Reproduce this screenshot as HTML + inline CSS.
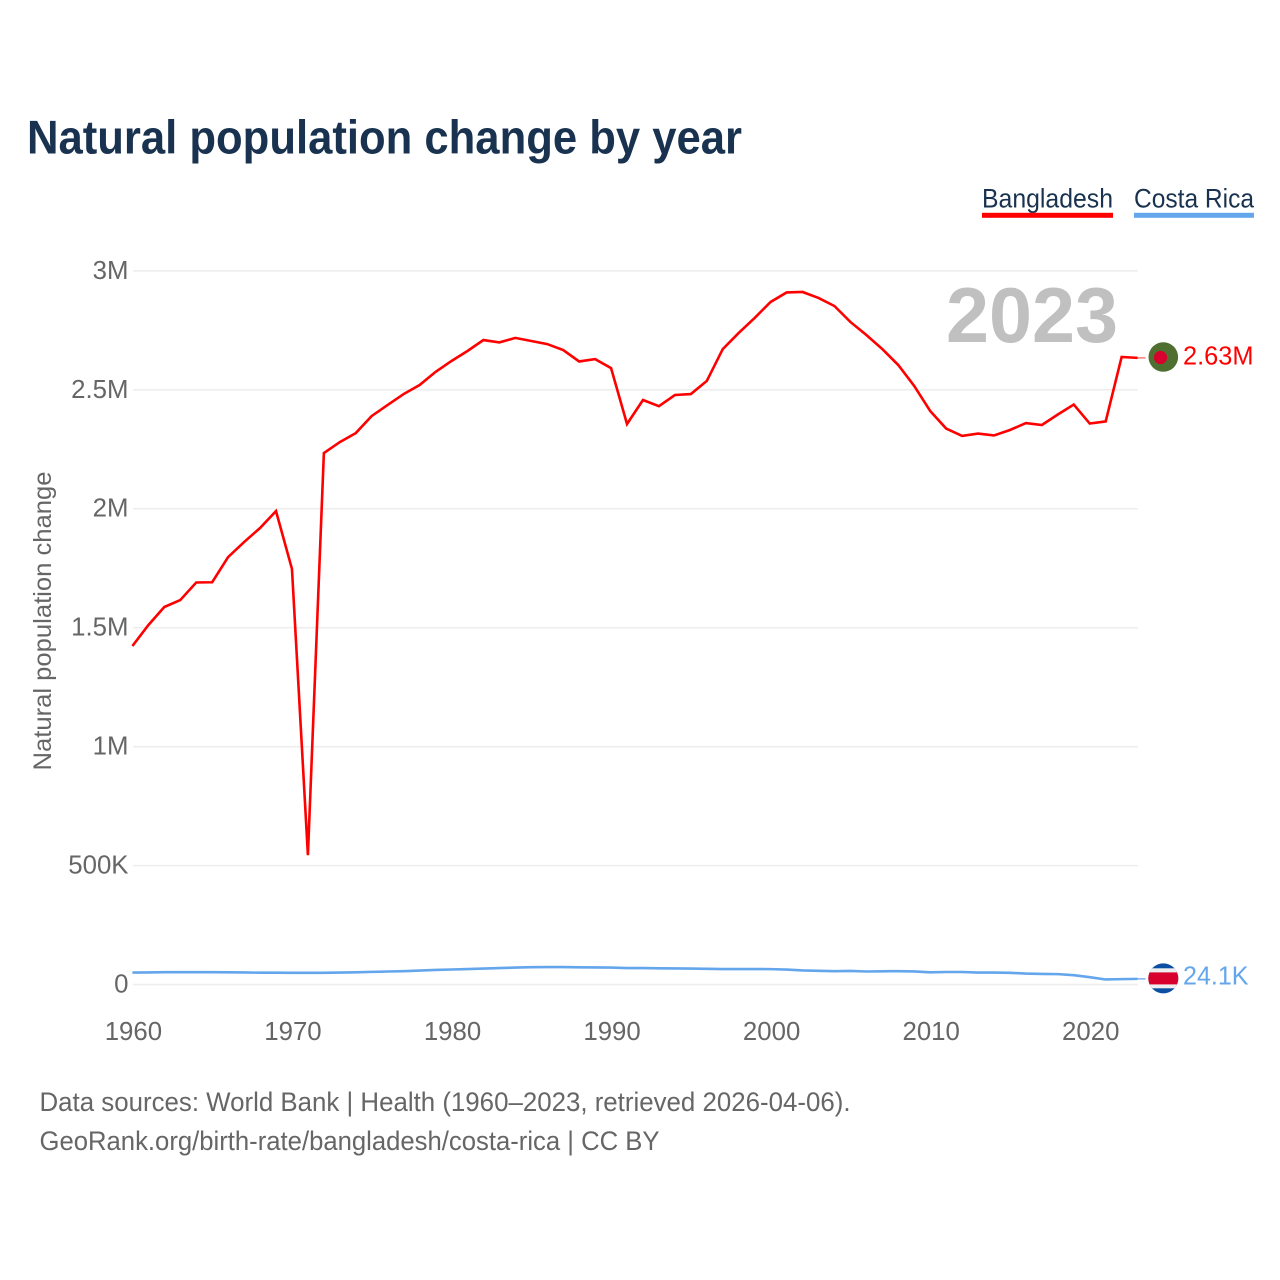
<!DOCTYPE html>
<html lang="en">
<head>
<meta charset="utf-8">
<title>Natural population change by year</title>
<style>
html,body{margin:0;padding:0;background:#fff;}
svg{display:block;font-family:"Liberation Sans",sans-serif;}
</style>
</head>
<body>
<svg id="chart" xmlns="http://www.w3.org/2000/svg" width="1280" height="1280" viewBox="0 0 1280 1280">
  <rect x="0" y="0" width="1280" height="1280" fill="#ffffff"/>
  <text x="27" y="153.5" font-size="47.5" font-weight="700" fill="#18324f" textLength="715" lengthAdjust="spacingAndGlyphs">Natural population change by year</text>

  <g>
    <g>
      <text x="982" y="207.5" font-size="26.5" fill="#18324f" textLength="131" lengthAdjust="spacingAndGlyphs">Bangladesh</text>
      <rect x="982" y="212.8" width="131" height="5" fill="#ff0000"/>
    </g>
    <g>
      <text x="1134" y="207.5" font-size="26.5" fill="#18324f" textLength="120" lengthAdjust="spacingAndGlyphs">Costa Rica</text>
      <rect x="1134" y="212.8" width="120" height="5" fill="#64a6ec"/>
    </g>
  </g>

  <g id="grid"></g>
  <g id="yticks"></g>
  <g id="xticks"></g>

  <text transform="translate(51,621) rotate(-90)" text-anchor="middle" font-size="25" fill="#666666" textLength="299" lengthAdjust="spacingAndGlyphs">Natural population change</text>

  <text x="946" y="342" font-size="78" font-weight="700" fill="#c0c0c0" textLength="172" lengthAdjust="spacingAndGlyphs">2023</text>

  <g id="series"></g>

  <g>
    <circle cx="1163.3" cy="357" r="14.8" fill="#4f6f31"/>
    <circle cx="1160.5" cy="357.5" r="6.6" fill="#d8002c"/>
  </g>
  <g>
    <clipPath id="cr-clip"><circle cx="1163.3" cy="978.4" r="15"/></clipPath>
    <g clip-path="url(#cr-clip)">
      <rect x="1147" y="962" width="33" height="33" fill="#0b4ea2"/>
      <rect x="1147" y="968.3" width="33" height="20" fill="#eeeeee"/>
      <rect x="1147" y="972.4" width="33" height="12" fill="#d8002c"/>
    </g>
  </g>
  <text x="1183" y="364.5" font-size="25.5" fill="#ff0000" textLength="70.5" lengthAdjust="spacingAndGlyphs">2.63M</text>
  <text x="1183" y="984.5" font-size="25.5" fill="#64a6ec" textLength="65.5" lengthAdjust="spacingAndGlyphs">24.1K</text>

  <text x="39.5" y="1111" font-size="26.5" fill="#666666" textLength="811" lengthAdjust="spacingAndGlyphs">Data sources: World Bank | Health (1960–2023, retrieved 2026-04-06).</text>
  <text x="39.5" y="1150" font-size="26.5" fill="#666666" textLength="620" lengthAdjust="spacingAndGlyphs">GeoRank.org/birth-rate/bangladesh/costa-rica | CC BY</text>
</svg>
<script>
const years = [1960,1961,1962,1963,1964,1965,1966,1967,1968,1969,1970,1971,1972,1973,1974,1975,1976,1977,1978,1979,1980,1981,1982,1983,1984,1985,1986,1987,1988,1989,1990,1991,1992,1993,1994,1995,1996,1997,1998,1999,2000,2001,2002,2003,2004,2005,2006,2007,2008,2009,2010,2011,2012,2013,2014,2015,2016,2017,2018,2019,2020,2021,2022,2023];
const bangladesh = [1423000,1511000,1587000,1616000,1690000,1691000,1797000,1860000,1919000,1990000,1747000,544000,2234000,2280000,2318000,2390000,2436000,2482000,2520000,2575000,2621000,2663000,2709000,2699000,2718000,2705000,2692000,2667000,2619000,2629000,2591000,2356000,2457000,2431000,2478000,2482000,2537000,2671000,2739000,2802000,2869000,2909000,2911000,2886000,2852000,2785000,2730000,2671000,2604000,2516000,2411000,2337000,2306000,2316000,2308000,2331000,2360000,2352000,2396000,2438000,2358000,2367000,2638000,2634000];
const costaRica = [50500,51000,52000,52000,52000,52000,51500,51000,50000,50000,49500,49500,49500,50500,51500,53500,55000,56500,59000,61500,63500,65500,67500,69500,71500,73000,73500,73500,72500,72000,71500,69500,69500,68500,68000,67500,66500,65500,65500,65500,65000,63000,59500,58000,56500,57500,55000,56000,56500,55500,51500,53000,53000,50500,50500,49500,46500,45000,44000,39500,31000,21500,23000,24100];
const yTickValues = [0,500000,1000000,1500000,2000000,2500000,3000000];
const yTickLabels = ['0','500K','1M','1.5M','2M','2.5M','3M'];
const xTickValues = [1960,1970,1980,1990,2000,2010,2020];
const xTickLabels = ['1960','1970','1980','1990','2000','2010','2020'];

const SVGNS = 'http://www.w3.org/2000/svg';
const X0 = 132.4, X1 = 1137.6, Y0 = 984.6, Y3M = 270.8;
function xScale(year) { return X0 + (year - years[0]) * (X1 - X0) / (years[years.length - 1] - years[0]); }
function yScale(v) { return Y0 - v * (Y0 - Y3M) / 3000000; }

const grid = document.getElementById('grid');
const yticks = document.getElementById('yticks');
const xticks = document.getElementById('xticks');
const seriesGroup = document.getElementById('series');

yTickValues.forEach(function (v, i) {
  const line = document.createElementNS(SVGNS, 'line');
  
  
  line.setAttribute('x1', 133);
  line.setAttribute('x2', 1138);
  line.setAttribute('y1', yScale(v));
  line.setAttribute('y2', yScale(v));
  line.setAttribute('stroke', '#eeeeee');
  line.setAttribute('stroke-width', '1.6');
  grid.appendChild(line);

  const label = document.createElementNS(SVGNS, 'text');
  
  
  label.setAttribute('x', 128.5);
  label.setAttribute('y', yScale(v) + 8);
  label.setAttribute('text-anchor', 'end');
  label.setAttribute('font-size', '25.8');
  label.setAttribute('fill', '#666666');
  label.textContent = yTickLabels[i];
  yticks.appendChild(label);
});

xTickValues.forEach(function (year, i) {
  const label = document.createElementNS(SVGNS, 'text');
  
  
  label.setAttribute('x', xScale(year) + 1);
  label.setAttribute('y', 1040);
  label.setAttribute('text-anchor', 'middle');
  label.setAttribute('font-size', '25.8');
  label.setAttribute('fill', '#666666');
  label.textContent = xTickLabels[i];
  xticks.appendChild(label);
});

function pathFor(values) {
  return values.map(function (v, i) {
    return (i ? 'L' : 'M') + xScale(years[i]).toFixed(2) + ' ' + yScale(v).toFixed(2);
  }).join(' ');
}

const costaLine = document.createElementNS(SVGNS, 'path');


costaLine.setAttribute('d', pathFor(costaRica));
costaLine.setAttribute('fill', 'none');
costaLine.setAttribute('stroke', '#64a6ec');
costaLine.setAttribute('stroke-width', '2.6');
costaLine.setAttribute('stroke-linejoin', 'round');
seriesGroup.appendChild(costaLine);

const bdLine = document.createElementNS(SVGNS, 'path');


bdLine.setAttribute('d', pathFor(bangladesh));
bdLine.setAttribute('fill', 'none');
bdLine.setAttribute('stroke', '#ff0000');
bdLine.setAttribute('stroke-width', '2.6');
bdLine.setAttribute('stroke-linejoin', 'miter');
seriesGroup.appendChild(bdLine);

const bdConn = document.createElementNS(SVGNS, 'line');


bdConn.setAttribute('x1', X1);
bdConn.setAttribute('x2', X1 + 8);
bdConn.setAttribute('y1', yScale(bangladesh[bangladesh.length - 1]));
bdConn.setAttribute('y2', yScale(bangladesh[bangladesh.length - 1]));
bdConn.setAttribute('stroke', '#ff0000');
bdConn.setAttribute('stroke-opacity', '0.6');
bdConn.setAttribute('stroke-width', '1.3');
seriesGroup.appendChild(bdConn);

const crConn = document.createElementNS(SVGNS, 'line');


crConn.setAttribute('x1', X1);
crConn.setAttribute('x2', X1 + 8);
crConn.setAttribute('y1', yScale(costaRica[costaRica.length - 1]));
crConn.setAttribute('y2', yScale(costaRica[costaRica.length - 1]));
crConn.setAttribute('stroke', '#64a6ec');
crConn.setAttribute('stroke-width', '1.3');
seriesGroup.appendChild(crConn);
</script>
</body>
</html>
